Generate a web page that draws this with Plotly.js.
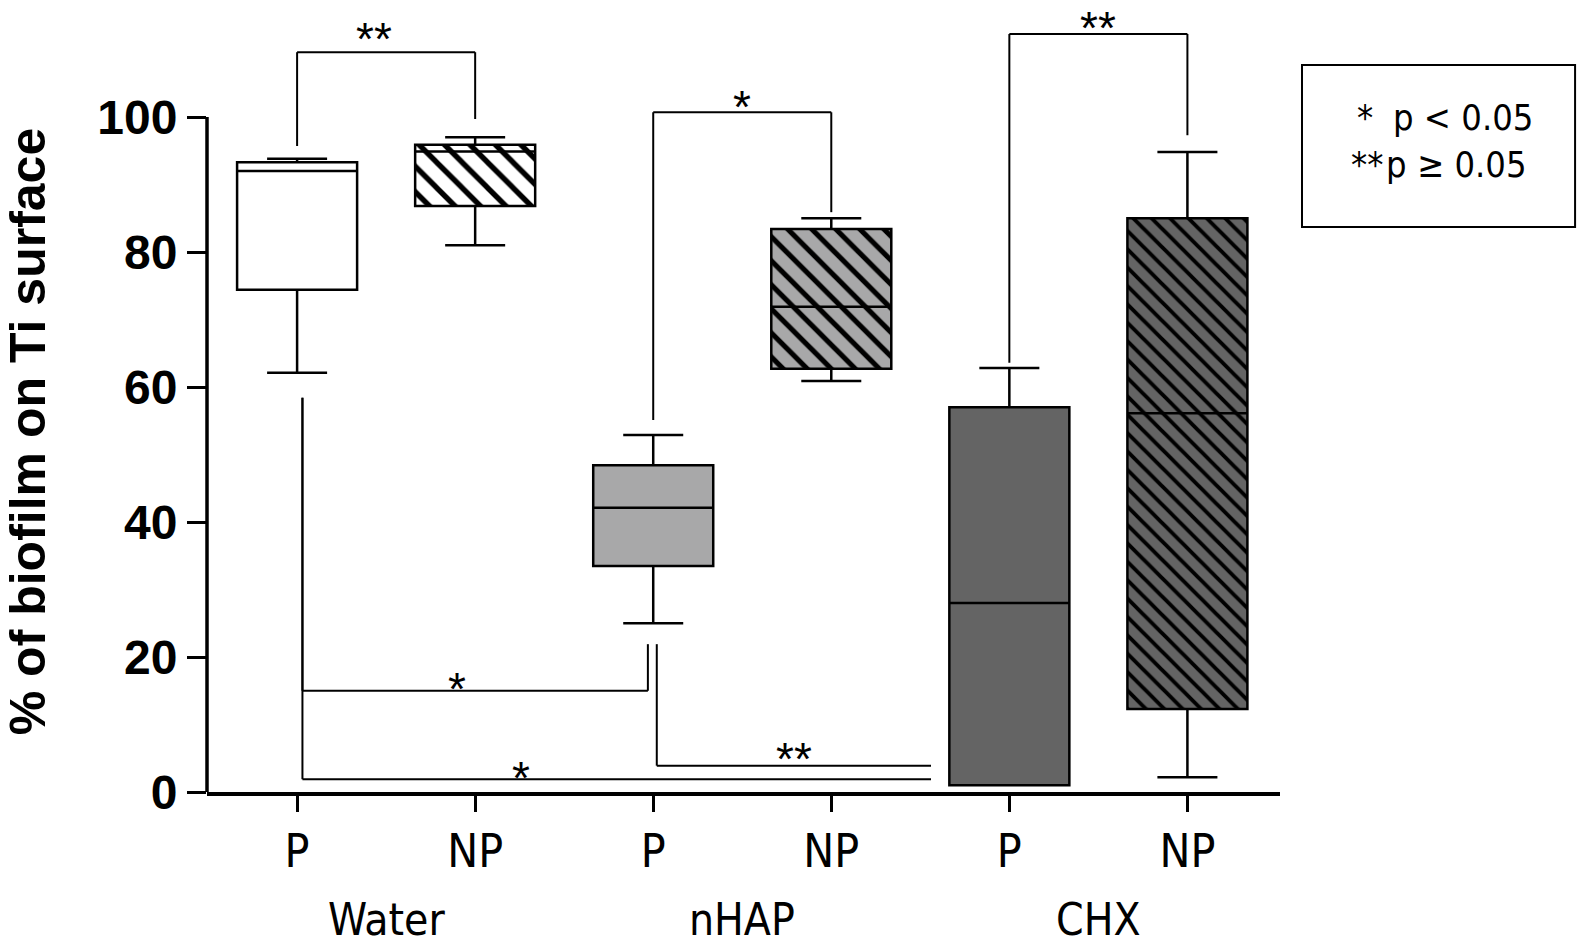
<!DOCTYPE html>
<html>
<head>
<meta charset="utf-8">
<script src="https://cdn.plot.ly/plotly-3.0.1.min.js"></script>
<style>
  html, body { margin: 0; padding: 0; background: #fff; }
  #chart { width: 1582px; height: 949px; }
</style>
</head>
<body>
<div id="chart"></div>
<script>
// box positions and labels
const positions = [0, 1, 2, 3, 4, 5];
const tickLabels = ['P', 'NP', 'P', 'NP', 'P', 'NP'];
const groups = ['Water', 'nHAP', 'CHX'];
const groupCenters = [0.5, 2.5, 4.5];

// box statistics (% of biofilm)
const lowerWhisker = [62.1, 81.0, 25.0, 60.9, 1.0, 2.2];
const q1 = [74.4, 86.8, 33.5, 62.7, 1.0, 12.3];
const median = [92.0, 94.9, 42.1, 71.9, 28.0, 56.1];
const q3 = [93.3, 95.9, 48.4, 83.4, 57.0, 85.0];
const upperWhisker = [93.8, 97.0, 52.9, 85.0, 62.8, 94.8];

// fills: plain for P, hatched for NP
const fillColors = ['#ffffff', '#ffffff', '#a8a8a9', '#a8a8a9', '#646464', '#646464'];
const hatchShapes = ['', '\\', '', '\\', '', '\\'];
const hatchSizes = [18, 18, 17, 17, 13, 13];

// significance brackets: line level, leg ends, label
const brX0 = [0, 2, 4, 0.03, 0.03, 2.02];
const brX1 = [1, 3, 5, 1.97, 3.56, 3.56];
const brLine = [109.6, 100.7, 112.3, 15.0, 1.9, 3.9];
const brLeftEnd = [95.7, 55.1, 63.6, 58.4, 58.4, 21.9];
const brRightEnd = [99.7, 85.9, 97.3, 21.9, 1.9, 3.9];
const brLabel = ['**', '*', '**', '*', '*', '**'];
const brLabelX = [0.43, 2.5, 4.5, 0.9, 1.26, 2.79];
const brLabelY = [113.2, 103.1, 114.8, 16.9, 3.7, 6.5];

const narrow = '"Liberation Sans Narrow", "Arial Narrow", "DejaVu Sans Condensed", sans-serif';
const arial = '"Liberation Sans", Arial, sans-serif';

// one bar per box so every box keeps its own fill and hatch colour
const fills = positions.map((x, i) => {
  const marker = { color: fillColors[i], line: { width: 0 } };
  if (hatchShapes[i]) {
    marker.pattern = {
      shape: hatchShapes[i],
      size: hatchSizes[i],
      solidity: 0.3,
      fgcolor: '#000000',
      fgopacity: 1,
      fillmode: 'overlay',
    };
  }
  return {
    type: 'bar',
    x: [x],
    base: [q1[i]],
    y: [q3[i] - q1[i]],
    width: 0.674,
    marker: marker,
    hoverinfo: 'skip',
    showlegend: false,
  };
});

const boxes = {
  type: 'box',
  x: positions,
  q1: q1,
  median: median,
  q3: q3,
  lowerfence: lowerWhisker,
  upperfence: upperWhisker,
  width: 0.674,
  whiskerwidth: 0.5,
  fillcolor: 'rgba(0,0,0,0)',
  line: { color: '#000000', width: 2.5 },
  boxpoints: false,
  hoverinfo: 'skip',
  showlegend: false,
};

const shapes = [];
const annotations = [];

brX0.forEach((x0, i) => {
  const x1 = brX1[i];
  const line = { color: '#000000', width: 2 };
  shapes.push({ type: 'line', xref: 'x', yref: 'y', x0: x0, x1: x1, y0: brLine[i], y1: brLine[i], line: line });
  shapes.push({ type: 'line', xref: 'x', yref: 'y', x0: x0, x1: x0, y0: brLine[i], y1: brLeftEnd[i], line: line });
  if (brRightEnd[i] !== brLine[i]) {
    shapes.push({ type: 'line', xref: 'x', yref: 'y', x0: x1, x1: x1, y0: brLine[i], y1: brRightEnd[i], line: line });
  }
  annotations.push({
    xref: 'x', yref: 'y', x: brLabelX[i], y: brLabelY[i],
    text: brLabel[i], showarrow: false, yanchor: 'middle', yshift: -11,
    font: { family: arial, size: 46, color: '#000000' },
  });
});

// y axis line only from 0 to 100
shapes.push({
  type: 'line', xref: 'paper', yref: 'y', x0: 0, x1: 0, y0: 0, y1: 100,
  line: { color: '#000000', width: 3.5 },
});

// legend box for significance
shapes.push({
  type: 'rect', xref: 'paper', yref: 'paper',
  x0: 1.0205, x1: 1.275, y0: 0.7216, y1: 0.9285,
  line: { color: '#000000', width: 2 },
});

const legendFont = { family: narrow, size: 36, color: '#000000' };
annotations.push({ xref: 'paper', yref: 'paper', x: 1.0700, y: 0.8614, xanchor: 'left', yanchor: 'middle', text: '*', showarrow: false, font: legendFont });
annotations.push({ xref: 'paper', yref: 'paper', x: 1.1030, y: 0.8614, xanchor: 'left', yanchor: 'middle', text: 'p < 0.05', showarrow: false, font: legendFont });
annotations.push({ xref: 'paper', yref: 'paper', x: 1.0640, y: 0.8008, xanchor: 'left', yanchor: 'middle', text: '**', showarrow: false, font: legendFont });
annotations.push({ xref: 'paper', yref: 'paper', x: 1.0970, y: 0.8008, xanchor: 'left', yanchor: 'middle', text: 'p', showarrow: false, font: legendFont });
annotations.push({ xref: 'paper', yref: 'paper', x: 1.1260, y: 0.8008, xanchor: 'left', yanchor: 'middle', text: '\u2265 0.05', showarrow: false, font: legendFont });

// group names under the tick labels
groups.forEach((g, i) => {
  annotations.push({
    xref: 'x', yref: 'paper', x: groupCenters[i], y: -0.1622,
    text: g, showarrow: false, yanchor: 'middle',
    font: { family: narrow, size: 44, color: '#000000' },
  });
});

// y axis title
annotations.push({
  xref: 'paper', yref: 'y', x: -0.1668, y: 53.3,
  text: '<b>% of biofilm on Ti surface</b>', textangle: -90,
  showarrow: false, xanchor: 'center', yanchor: 'middle',
  font: { family: arial, size: 50, color: '#000000' },
});

const layout = {
  width: 1582,
  height: 949,
  margin: { l: 207, r: 302, t: 9, b: 157 },
  paper_bgcolor: '#ffffff',
  plot_bgcolor: '#ffffff',
  showlegend: false,
  hovermode: false,
  barmode: 'overlay',
  xaxis: {
    range: [-0.506, 5.52],
    tickmode: 'array',
    tickvals: positions,
    ticktext: tickLabels,
    ticks: 'outside',
    ticklen: 16,
    tickwidth: 3,
    tickcolor: '#000000',
    showline: true,
    linewidth: 3.5,
    linecolor: '#000000',
    showgrid: false,
    zeroline: false,
    tickfont: { family: narrow, size: 46, color: '#000000' },
  },
  yaxis: {
    range: [0, 116],
    tickmode: 'array',
    tickvals: [0, 20, 40, 60, 80, 100],
    ticktext: ['<b>0</b>', '<b>20</b>', '<b>40</b>', '<b>60</b>', '<b>80</b>', '<b>100</b>'],
    ticks: 'outside',
    ticklen: 19,
    tickwidth: 3,
    tickcolor: '#000000',
    showline: false,
    showgrid: false,
    zeroline: false,
    tickfont: { family: arial, size: 48, color: '#000000' },
  },
  shapes: shapes,
  annotations: annotations,
};

Plotly.newPlot('chart', fills.concat([boxes]), layout, { displayModeBar: false, staticPlot: true });
</script>
</body>
</html>
